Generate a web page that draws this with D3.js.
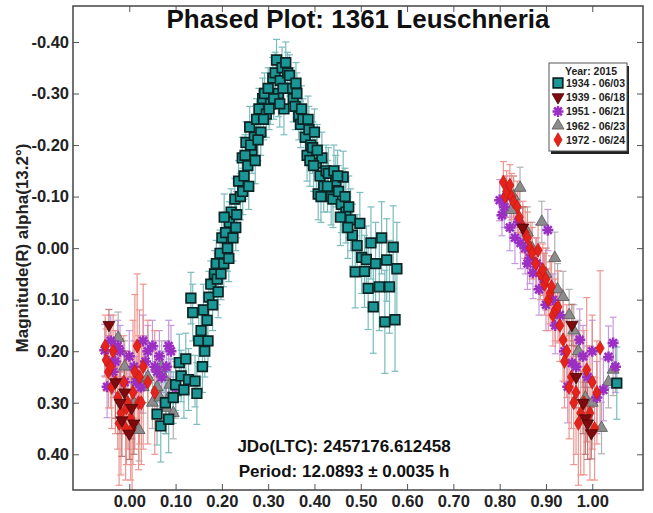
<!DOCTYPE html>
<html lang="en">
<head>
<meta charset="UTF-8">
<title>Phased Plot: 1361 Leuschneria</title>
<script src="https://d3js.org/d3.v7.min.js"></script>
<style>
  body { margin: 0; background: #fff; }
  text { font-family: "Liberation Sans", Arial, sans-serif; }
</style>
</head>
<body>
<svg id="chart" width="653" height="513"></svg>
<script>
// tick values / labels
var xTicks = [0, 0.1, 0.2, 0.3, 0.4, 0.5, 0.6, 0.7, 0.8, 0.9, 1.0];
var xTickLabels = ["0.00", "0.10", "0.20", "0.30", "0.40", "0.50", "0.60", "0.70", "0.80", "0.90", "1.00"];
var yTicks = [-0.4, -0.3, -0.2, -0.1, 0, 0.1, 0.2, 0.3, 0.4];
var yTickLabels = ["-0.40", "-0.30", "-0.20", "-0.10", "0.00", "0.10", "0.20", "0.30", "0.40"];

var legendTitle = "Year: 2015";
var seriesNames = ["1934 - 06/03", "1939 - 06/18", "1951 - 06/21", "1962 - 06/23", "1972 - 06/24"];

// 1934 - 06/03 : phase, magnitude, error
var phase1934 = [0.060,0.068,0.078,0.085,0.095,0.100,0.108,0.112,0.118,0.122,0.128,0.133,0.137,0.142,0.146,0.150,0.155,0.160,0.163,0.168,
  0.172,0.176,0.180,0.184,0.188,0.192,0.196,0.200,0.204,0.208,0.212,0.216,0.220,0.224,0.228,0.232,0.236,0.240,0.244,0.248,
  0.252,0.256,0.260,0.265,0.270,0.275,0.280,0.284,0.288,0.292,0.296,0.300,0.305,0.310,0.315,0.318,0.322,0.326,0.330,0.334,
  0.338,0.342,0.346,0.350,0.354,0.358,0.362,0.366,0.370,0.375,0.380,0.384,0.388,0.392,0.396,0.400,0.404,0.408,0.412,0.416,
  0.420,0.425,0.430,0.436,0.440,0.446,0.452,0.458,0.462,0.468,0.474,0.478,0.482,0.488,0.492,0.498,0.502,0.508,0.512,0.516,
  0.522,0.527,0.532,0.540,0.545,0.552,0.556,0.562,0.570,0.574,0.578,1.053,
  0.205,0.215,0.230,0.245,0.250,0.258,0.262,0.272,0.278,0.290,0.302,0.312,0.325,0.332,0.360,0.372,0.386,0.390,0.398,0.406,
  0.414,0.428,0.442,0.450,0.456,0.466,0.472,0.170,0.158,0.190,0.198];
var mag1934 = [0.322,0.345,0.300,0.332,0.290,0.265,0.222,0.248,0.275,0.215,0.255,0.097,0.125,0.258,0.282,0.180,0.160,0.120,0.200,0.140,
  0.095,0.070,0.110,0.050,0.030,0.085,0.010,-0.020,0.030,-0.030,0.000,-0.050,-0.070,-0.020,-0.095,-0.065,-0.130,-0.100,-0.175,-0.140,
  -0.205,-0.160,-0.235,-0.190,-0.215,-0.250,-0.270,-0.225,-0.290,-0.300,-0.260,-0.310,-0.280,-0.330,-0.340,-0.365,-0.300,-0.325,-0.350,-0.270,
  -0.360,-0.340,-0.335,-0.310,-0.290,-0.275,-0.300,-0.255,-0.240,-0.250,-0.215,-0.180,-0.230,-0.200,-0.195,-0.225,-0.165,-0.105,-0.140,-0.175,
  -0.120,-0.150,-0.145,-0.100,-0.095,-0.130,-0.110,-0.085,-0.138,-0.070,-0.080,-0.055,-0.025,0.046,-0.005,-0.048,0.018,0.045,0.022,0.078,
  -0.010,0.114,0.030,0.075,-0.020,0.143,0.023,0.075,-0.002,0.139,0.040,0.262,
  -0.060,0.020,-0.040,-0.110,-0.180,-0.120,-0.200,-0.170,-0.210,-0.250,-0.270,-0.290,-0.280,-0.310,-0.320,-0.270,-0.250,-0.170,-0.160,-0.190,
  -0.100,-0.120,-0.150,-0.140,-0.060,-0.100,-0.040,0.180,0.230,0.060,0.050];
var err1934 = [0.060,0.070,0.060,0.065,0.050,0.050,0.055,0.050,0.055,0.050,0.060,0.050,0.055,0.050,0.060,0.050,0.050,0.050,0.050,0.050,
  0.050,0.045,0.050,0.045,0.045,0.050,0.045,0.045,0.045,0.040,0.045,0.040,0.045,0.045,0.040,0.045,0.040,0.045,0.040,0.045,
  0.040,0.040,0.040,0.045,0.040,0.040,0.040,0.045,0.040,0.040,0.045,0.040,0.040,0.040,0.040,0.040,0.045,0.040,0.040,0.050,
  0.040,0.040,0.040,0.040,0.045,0.045,0.040,0.045,0.045,0.040,0.045,0.050,0.045,0.045,0.050,0.045,0.050,0.050,0.050,0.050,
  0.050,0.050,0.050,0.055,0.055,0.050,0.050,0.055,0.050,0.060,0.060,0.060,0.060,0.070,0.060,0.060,0.070,0.070,0.065,0.080,
  0.070,0.090,0.080,0.085,0.070,0.100,0.080,0.090,0.080,0.100,0.090,0.070,
  0.045,0.045,0.045,0.045,0.040,0.045,0.040,0.045,0.040,0.040,0.040,0.040,0.045,0.040,0.040,0.045,0.045,0.050,0.050,0.050,
  0.050,0.050,0.050,0.050,0.055,0.055,0.060,0.050,0.050,0.050,0.050];

// 1939 - 06/18
var phase1939 = [-0.044,-0.020,-0.016,0.000,-0.010,0.005,-0.030,0.010,0.850,0.956,0.965,0.980,0.985,0.990,0.998];
var mag1939 = [0.149,0.300,0.334,0.360,0.280,0.310,0.260,0.340,-0.040,0.149,0.250,0.300,0.330,0.340,0.359];
var err1939 = [0.030,0.060,0.070,0.050,0.080,0.060,0.070,0.060,0.040,0.040,0.060,0.060,0.070,0.070,0.050];

// 1951 - 06/21
var phase1951 = [-0.053,-0.048,-0.045,-0.040,-0.035,-0.030,-0.025,-0.020,-0.010,0.000,0.010,0.015,0.025,0.030,0.035,0.040,0.050,0.055,0.060,0.065,0.070,0.080,0.085,0.090,0.100,
  0.800,0.805,0.810,0.815,0.822,0.833,0.840,0.845,0.855,0.860,0.865,0.872,0.880,0.885,0.895,0.900,0.904,0.915,0.920,0.930,0.940,0.947,0.956,0.965,0.973,0.980,0.990,1.000,1.010,1.024,1.035,1.045,1.050];
var mag1951 = [0.198,0.269,0.220,0.180,0.240,0.220,0.190,0.200,0.260,0.210,0.230,0.260,0.270,0.180,0.220,0.200,0.190,0.230,0.240,0.210,0.250,0.230,0.190,0.200,0.270,
  -0.093,-0.064,-0.080,-0.100,-0.040,-0.020,-0.050,-0.010,0.000,0.030,0.019,0.048,0.030,0.080,0.060,0.110,-0.035,0.100,0.150,0.130,0.200,0.269,0.223,0.230,0.178,0.210,0.250,0.200,0.290,0.275,0.211,0.184,0.230];
var err1951 = [0.050,0.060,0.050,0.050,0.050,0.060,0.050,0.050,0.060,0.050,0.050,0.050,0.050,0.050,0.050,0.050,0.050,0.050,0.050,0.050,0.050,0.050,0.050,0.050,0.050,
  0.040,0.040,0.040,0.040,0.045,0.050,0.040,0.050,0.050,0.050,0.050,0.050,0.050,0.050,0.050,0.050,0.040,0.050,0.055,0.050,0.060,0.070,0.060,0.060,0.060,0.060,0.060,0.060,0.070,0.060,0.060,0.050,0.050];

// 1962 - 06/23
var phase1962 = [-0.024,-0.010,0.010,0.021,0.030,0.040,0.050,0.060,0.066,0.070,0.075,0.080,0.085,0.088,0.095,0.100,
  0.825,0.830,0.844,0.860,0.870,0.891,0.900,0.919,0.925,0.937,0.950,0.960,0.970,0.985,1.000,1.020,1.035,1.045];
var mag1962 = [0.174,0.230,0.300,0.353,0.270,0.250,0.300,0.270,0.290,0.230,0.250,0.310,0.290,0.265,0.320,0.280,
  -0.074,-0.100,-0.117,-0.030,0.000,-0.051,0.050,0.019,0.080,0.095,0.130,0.160,0.200,0.290,0.300,0.349,0.260,0.236];
var err1962 = [0.050,0.050,0.050,0.060,0.050,0.050,0.050,0.050,0.050,0.050,0.050,0.050,0.050,0.050,0.050,0.050,
  0.040,0.040,0.040,0.050,0.050,0.040,0.050,0.050,0.050,0.050,0.050,0.050,0.060,0.060,0.050,0.050,0.050,0.050];

// 1972 - 06/24
var phase1972 = [-0.052,-0.050,-0.045,-0.040,-0.038,-0.035,-0.030,-0.025,-0.022,-0.018,-0.012,-0.008,-0.006,-0.003,0.003,0.006,0.008,0.012,0.017,0.020,0.022,0.026,0.030,0.040,0.055,
  0.808,0.812,0.815,0.822,0.826,0.830,0.838,0.842,0.850,0.855,0.860,0.866,0.870,0.878,0.883,0.888,0.893,0.897,0.900,0.905,0.909,0.912,0.915,0.920,0.926,0.930,
  0.937,0.940,0.945,0.950,0.955,0.960,0.965,0.970,0.975,0.982,0.988,0.995,1.000,1.005,1.010,1.017];
var mag1972 = [0.190,0.217,0.240,0.230,0.270,0.200,0.260,0.290,0.340,0.320,0.260,0.350,0.310,0.300,0.330,0.350,0.280,0.240,0.190,0.300,0.250,0.300,0.230,0.260,0.280,
  -0.128,-0.100,-0.110,-0.122,-0.100,-0.090,-0.080,-0.060,-0.041,-0.030,-0.020,0.000,0.010,0.030,0.004,0.050,0.042,0.070,0.060,0.100,0.087,0.075,0.130,0.120,0.114,0.150,
  0.178,0.220,0.200,0.270,0.250,0.300,0.280,0.340,0.320,0.300,0.236,0.320,0.260,0.350,0.280,0.194];
var err1972 = [0.060,0.060,0.070,0.080,0.080,0.070,0.100,0.100,0.120,0.120,0.090,0.100,0.110,0.090,0.120,0.120,0.140,0.150,0.140,0.130,0.130,0.120,0.160,0.120,0.120,
  0.040,0.040,0.040,0.040,0.045,0.050,0.050,0.050,0.050,0.050,0.050,0.050,0.050,0.050,0.050,0.050,0.050,0.060,0.060,0.060,0.060,0.060,0.060,0.060,0.070,0.070,
  0.080,0.090,0.090,0.100,0.100,0.120,0.120,0.120,0.120,0.140,0.140,0.130,0.130,0.100,0.100,0.150];

var svg = d3.select("#chart");
var plotLeft = 73, plotRight = 643, plotTop = 6, plotBottom = 490;

var x = d3.scaleLinear().domain([-0.1216, 1.1096]).range([plotLeft, plotRight]);
var y = d3.scaleLinear().domain([-0.4698, 0.4693]).range([plotTop, plotBottom]);

function rows(p, m, e) {
  return p.map(function(d, i) { return { p: d, m: m[i], e: e[i] }; });
}

var asterisk = "M-5.5,0L5.5,0M0,-5.5L0,5.5M-3.9,-3.9L3.9,3.9M-3.9,3.9L3.9,-3.9";

var series = [
  { name: seriesNames[3], data: rows(phase1962, mag1962, err1962), kind: "triUp", fill: "#8c8c8c", stroke: "#555", bar: "#aaaaaa" },
  { name: seriesNames[2], data: rows(phase1951, mag1951, err1951), kind: "star", fill: "#9b2fc4", stroke: "#9b2fc4", bar: "#bf8fdc" },
  { name: seriesNames[4], data: rows(phase1972, mag1972, err1972), kind: "diamond", fill: "#e5231b", stroke: "#c51a14", bar: "#ec8a84" },
  { name: seriesNames[1], data: rows(phase1939, mag1939, err1939), kind: "triDown", fill: "#7d0a0c", stroke: "#4a0406", bar: "#b86a6a" },
  { name: seriesNames[0], data: rows(phase1934, mag1934, err1934), kind: "square", fill: "#1b9696", stroke: "#0b2424", bar: "#6db5b5" }
];

function markerPath(kind) {
  if (kind == "square") return d3.symbol(d3.symbolSquare, 92)();
  if (kind == "triUp" || kind == "triDown") return d3.symbol(d3.symbolTriangle, 62)();
  if (kind == "diamond") return d3.symbol(d3.symbolDiamond, 56)();
  return asterisk;
}

// sel: selection of data-bound paths; px/py give pixel position
function drawMarker(sel, s, px, py) {
  sel.attr("d", markerPath(s.kind))
    .attr("transform", function(d) {
      var t = "translate(" + px(d) + "," + py(d) + ")";
      return s.kind == "triDown" ? t + " rotate(180)" : t;
    })
    .attr("fill", s.kind == "star" ? "none" : s.fill)
    .attr("stroke", s.stroke)
    .attr("stroke-width", s.kind == "star" ? 2.5 : (s.kind == "square" ? 1.7 : 0.8));
}

var plot = svg.append("g");

// error bars
series.forEach(function(s) {
  var g = plot.append("g").attr("stroke", s.bar).attr("stroke-width", 1.2).attr("opacity", 0.9);
  var eb = g.selectAll("g").data(s.data).enter().append("g");
  eb.append("line")
    .attr("x1", function(d) { return x(d.p); }).attr("x2", function(d) { return x(d.p); })
    .attr("y1", function(d) { return y(d.m - d.e); }).attr("y2", function(d) { return y(d.m + d.e); });
  eb.append("line")
    .attr("x1", function(d) { return x(d.p) - 3.5; }).attr("x2", function(d) { return x(d.p) + 3.5; })
    .attr("y1", function(d) { return y(d.m - d.e); }).attr("y2", function(d) { return y(d.m - d.e); });
  eb.append("line")
    .attr("x1", function(d) { return x(d.p) - 3.5; }).attr("x2", function(d) { return x(d.p) + 3.5; })
    .attr("y1", function(d) { return y(d.m + d.e); }).attr("y2", function(d) { return y(d.m + d.e); });
});

// markers
series.forEach(function(s) {
  var g = plot.append("g");
  drawMarker(g.selectAll("path").data(s.data).enter().append("path"), s,
    function(d) { return x(d.p); }, function(d) { return y(d.m); });
});

// axes with inward ticks
function fmt(vals, labels) { return function(d) { return labels[vals.indexOf(d)]; }; }

var ax = svg.append("g");
ax.append("g").attr("transform", "translate(0," + plotBottom + ")")
  .call(d3.axisBottom(x).tickValues(xTicks).tickFormat(fmt(xTicks, xTickLabels)).tickSize(-6).tickPadding(5));
ax.append("g").attr("transform", "translate(0," + plotTop + ")")
  .call(d3.axisTop(x).tickValues(xTicks).tickFormat("").tickSize(-6));
ax.append("g").attr("transform", "translate(" + plotLeft + ",0)")
  .call(d3.axisLeft(y).tickValues(yTicks).tickFormat(fmt(yTicks, yTickLabels)).tickSize(-6).tickPadding(4));
ax.append("g").attr("transform", "translate(" + plotRight + ",0)")
  .call(d3.axisRight(y).tickValues(yTicks).tickFormat("").tickSize(-6));
ax.selectAll(".domain").remove();
ax.selectAll(".tick line").attr("stroke", "#555").attr("stroke-width", 1);
ax.selectAll(".tick text").attr("font-size", 16.5).attr("font-weight", "bold").attr("fill", "#222")
  .attr("font-family", "'Liberation Sans', Arial, sans-serif");

svg.append("rect")
  .attr("x", plotLeft).attr("y", plotTop).attr("width", plotRight - plotLeft).attr("height", plotBottom - plotTop)
  .attr("fill", "none").attr("stroke", "#444").attr("stroke-width", 1.5);

// title and texts
svg.append("text").attr("x", 358).attr("y", 28).attr("text-anchor", "middle")
  .attr("font-size", 26).attr("font-weight", "bold").attr("fill", "#111")
  .text("Phased Plot: 1361 Leuschneria");

svg.append("text").attr("transform", "translate(28,248) rotate(-90)").attr("text-anchor", "middle")
  .attr("font-size", 17).attr("font-weight", "bold").attr("fill", "#222")
  .text("Magnitude(R) alpha(13.2°)");

svg.append("text").attr("x", 344).attr("y", 452).attr("text-anchor", "middle")
  .attr("font-size", 17).attr("font-weight", "bold").attr("fill", "#111")
  .text("JDo(LTC): 2457176.612458");
svg.append("text").attr("x", 344).attr("y", 477).attr("text-anchor", "middle")
  .attr("font-size", 17).attr("font-weight", "bold").attr("fill", "#111")
  .text("Period: 12.0893 ± 0.0035 h");

// legend
var lg = svg.append("g").attr("transform", "translate(549,63)");
lg.append("rect").attr("x", 2).attr("y", 3).attr("width", 78).attr("height", 88).attr("fill", "#222");
lg.append("rect").attr("width", 78).attr("height", 88).attr("fill", "#fff").attr("stroke", "#555").attr("stroke-width", 1);
lg.append("text").attr("x", 42).attr("y", 12).attr("text-anchor", "middle")
  .attr("font-size", 10.5).attr("font-weight", "bold").attr("fill", "#222").text(legendTitle);

var legendOrder = [4, 3, 1, 0, 2]; // index into series: 1934, 1939, 1951, 1962, 1972
legendOrder.forEach(function(si, i) {
  var s = series[si];
  var row = lg.append("g").attr("transform", "translate(0," + (24 + i * 14.2) + ")");
  drawMarker(row.selectAll("path").data([0]).enter().append("path"), s,
    function() { return 9; }, function() { return -4; });
  row.append("text").attr("x", 17).attr("y", 0)
    .attr("font-size", 10.5).attr("font-weight", "bold").attr("fill", "#222").text(s.name);
});
</script>
</body>
</html>
